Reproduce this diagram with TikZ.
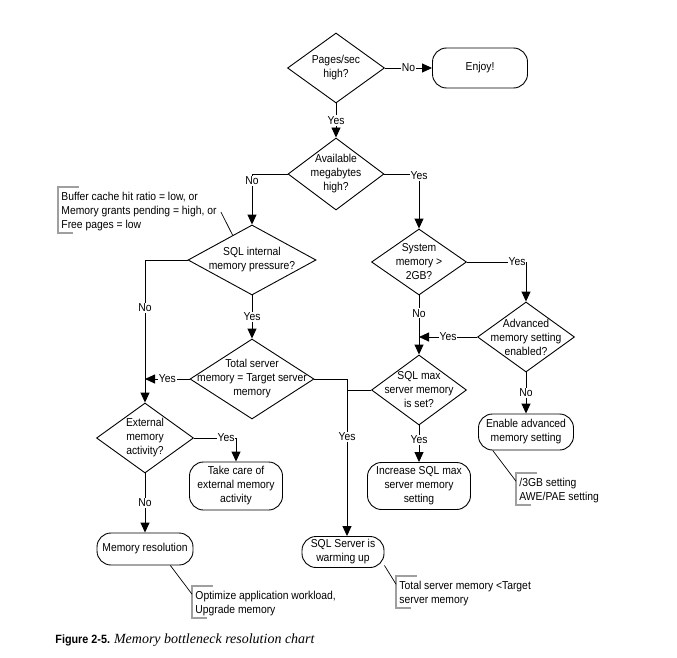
\documentclass[tikz,border=0pt]{standalone}
\usepackage{fontspec}
\setmainfont[FakeStretch=0.9]{Liberation Sans}
\newfontfamily\capserif{Liberation Serif}
\usetikzlibrary{shapes.geometric,arrows.meta,calc}
\newcommand\notebracket[1]{\draw[brk] ($(#1.north west)+(18,-5)$) -- ($(#1.north west)+(-3,-5)$) -- ($(#1.south west)+(-3,1)$) -- ($(#1.south west)+(12,1)$);}
\begin{document}
\begin{tikzpicture}[x=1pt,y=-1pt,
  font=\fontsize{11.5}{14}\selectfont,
  line width=0.9pt,
  dia/.style={draw, diamond, inner sep=0pt},
  dtext/.style={align=center, inner sep=0pt},
  term/.style={draw, rectangle, rounded corners=14pt, align=center, inner sep=0pt},
  lbl/.style={fill=white, inner sep=1pt},
  arr/.style={-{Triangle[length=10pt,width=9pt]}},
  note/.style={align=left, anchor=west, inner sep=0pt},
  brk/.style={draw=gray!75, line width=1.4pt},
  lead/.style={line width=0.7pt}
]
\useasboundingbox[fill=white] (0,0) rectangle (677,658);

% decisions
\node[dia, minimum width=97pt, minimum height=70pt, label={[dtext]center:Pages/sec\\high?}] (d1) at (336,68) {};
\node[dia, minimum width=96pt, minimum height=72pt, label={[dtext]center:Available\\megabytes\\high?}] (d2) at (336,174) {};
\node[dia, minimum width=128pt, minimum height=70pt, label={[dtext]center:SQL internal\\memory pressure?}] (d3) at (252,260) {};
\node[dia, minimum width=95pt, minimum height=66pt, label={[dtext]center:System\\memory >\\2GB?}] (d4) at (419,262) {};
\node[dia, minimum width=97pt, minimum height=70pt, label={[dtext]center:External\\memory\\activity?}] (d5) at (145,438) {};
\node[dia, minimum width=124pt, minimum height=80pt, label={[dtext]center:Total server\\memory = Target server\\memory}] (d6) at (252,379) {};
\node[dia, minimum width=95pt, minimum height=70pt, label={[dtext]center:SQL max\\server memory\\is set?}] (d7) at (419,390) {};
\node[dia, minimum width=97pt, minimum height=70pt, label={[dtext]center:Advanced\\memory setting\\enabled?}] (d8) at (526,337) {};

% terminals
\node[term, minimum width=95pt, minimum height=40pt] (enjoy) at (480,68) {Enjoy!};
\node[term, minimum width=93pt, minimum height=48pt] (take) at (236,486) {Take care of\\external memory\\activity};
\node[term, minimum width=103pt, minimum height=47pt] (inc) at (419,486) {Increase SQL max\\server memory\\setting};
\node[term, minimum width=95pt, minimum height=36pt] (enable) at (526,432) {Enable advanced\\memory setting};
\node[term, minimum width=96pt, minimum height=32pt] (memres) at (145,549) {Memory resolution};
\node[term, minimum width=82pt, minimum height=31pt] (warm) at (343,552) {SQL Server is\\warming up};

% notes
\node[note] (n1) at (61,212) {Buffer cache hit ratio = low, or\\Memory grants pending = high, or\\Free pages = low};
\node[note] (n2) at (519,491) {/3GB setting\\AWE/PAE setting};
\node[note] (n3) at (195,604) {Optimize application workload,\\Upgrade memory};
\node[note] (n4) at (399,594) {Total server memory <Target\\server memory};
\notebracket{n1}
\notebracket{n2}
\notebracket{n3}
\notebracket{n4}

% leaders
\draw[lead] ([xshift=4pt]n1.east) -- (d3.128);
\draw[lead] (enable.209) -- ([xshift=-3pt,yshift=-3pt]n2.north west);
\draw[lead] (memres.-33) -- ([xshift=-3pt,yshift=-3pt]n3.north west);
\draw[lead] (warm.-18) -- ([xshift=-3pt,yshift=-3pt]n4.north west);

% connectors
\draw[arr] (d1.east) -- node[lbl]{No} (enjoy.west);
\draw[arr] (d1.south) -- node[lbl]{Yes} (d2.north);
\draw[arr] (d2.west) -| node[lbl, pos=0.5, yshift=-7pt]{No} (d3.north);
\draw[arr] (d2.east) -| node[lbl, pos=0.5, yshift=-2pt]{Yes} (d4.north);
\draw[arr] (d4.east) -| node[lbl, pos=0.5, xshift=-9pt]{Yes} (d8.north);
\draw[arr] (d4.south) -- node[lbl, pos=0.3]{No} (d7.north);
\draw[arr] (d8.west) -- node[lbl]{Yes} (d8.west -| d4.south);
\draw[arr] (d8.south) -- node[lbl]{No} (enable.north);
\draw[arr] (d7.south) -- node[lbl, pos=0.4]{Yes} (inc.north);
\draw[arr] (d3.south) -- node[lbl]{Yes} (d6.north);
\draw[arr] (d3.west) -| node[lbl, pos=0.668]{No} (d5.north);
\draw[arr] (d6.west) -- node[lbl]{Yes} (d6.west -| d5.north);
\coordinate (j) at (347,379);
\draw (d6.east) -- (j);
\draw[arr] (j) -- node[lbl, pos=0.367]{Yes} (j |- warm.north);
\draw (d7.west) -- (d7.west -| j);
\draw[arr] (d5.east) -| node[lbl, pos=0.5, xshift=-10pt]{Yes} (take.north);
\draw[arr] (d5.south) -- node[lbl]{No} (memres.north);

% caption
\node[anchor=west, inner sep=0pt] (cap) at (55,640) {\fontsize{12}{14}\selectfont\bfseries Figure 2-5. \capserif\mdseries\itshape\fontsize{14}{16}\selectfont Memory bottleneck resolution chart};
\end{tikzpicture}
\end{document}
